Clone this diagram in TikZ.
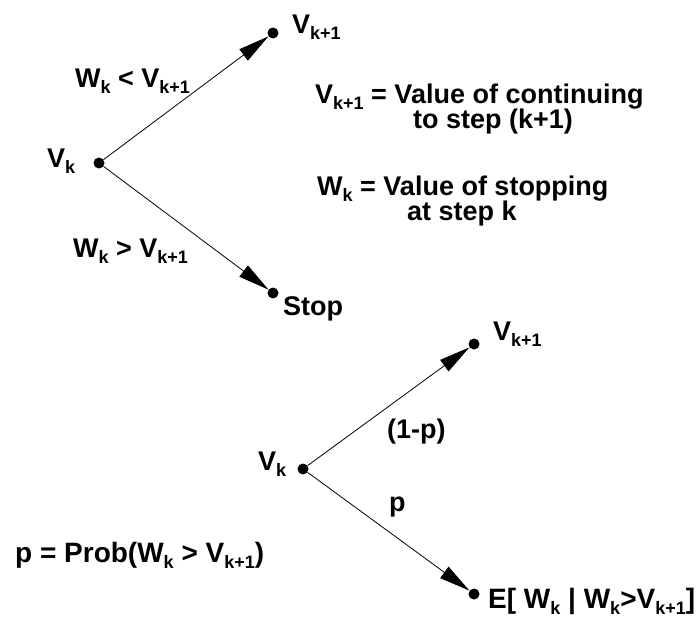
\documentclass[tikz,border=0pt]{standalone}
\usepackage{fontspec}
\setmainfont{Liberation Sans}
\usetikzlibrary{arrows.meta}
\newcommand\sbs[1]{\raisebox{-6pt}{\fontsize{18}{18}\selectfont #1}}
\tikzset{
  dotnode/.style={circle,fill=black,inner sep=0pt,minimum size=11pt},
  lbl/.style={anchor=base west,inner sep=0pt,font=\fontsize{27}{29}\selectfont\bfseries},
  lblb/.style={lbl,font=\fontsize{28}{30}\selectfont\bfseries},
  arr/.style={line width=0.8pt,-{Triangle[length=31pt,width=14pt]}},
}
\begin{document}
\begin{tikzpicture}[x=1pt,y=-1pt]
\useasboundingbox (0,0) rectangle (698,632);
% top tree
\node[dotnode] (a) at (99,163) {};
\node[dotnode] (b) at (273,33) {};
\node[dotnode] (c) at (273,293) {};
\draw[arr] (a) -- (b);
\draw[arr] (a) -- (c);
\node[lbl] (la) at (47,167) {V\sbs{k}};
\node[lbl] (lb) at (292,33) {V\sbs{k+1}};
\node[lbl] (lc) at (283,315) {Stop};
\node[lbl] (ab) at (75,87) {W\sbs{k} < V\sbs{k+1}};
\node[lbl] (ac) at (73,257) {W\sbs{k} > V\sbs{k+1}};
\node[lbl] (d1) at (315,103) {V\sbs{k+1} = Value of continuing};
\node[lbl] (d2) at (413,128) {to step (k+1)};
\node[lbl] (d3) at (317,195) {W\sbs{k} = Value of stopping};
\node[lbl] (d4) at (407,220) {at step k};
% bottom tree
\node[dotnode] (e) at (303,469) {};
\node[dotnode] (f) at (474,344) {};
\node[dotnode] (g) at (474,594) {};
\draw[arr] (e) -- (f);
\draw[arr] (e) -- (g);
\node[lbl] (le) at (258,470) {V\sbs{k}};
\node[lbl] (lf) at (493,340) {V\sbs{k+1}};
\node[lblb] (lg) at (488,608) {E[ W\sbs{k} | W\sbs{k}>V\sbs{k+1}]};
\node[lbl] (ef) at (387,438) {(1-p)};
\node[lbl] (eg) at (389,511) {p};
\node[lblb] (pp) at (15,562) {p = Prob(W\sbs{k} > V\sbs{k+1})};
\end{tikzpicture}
\end{document}
